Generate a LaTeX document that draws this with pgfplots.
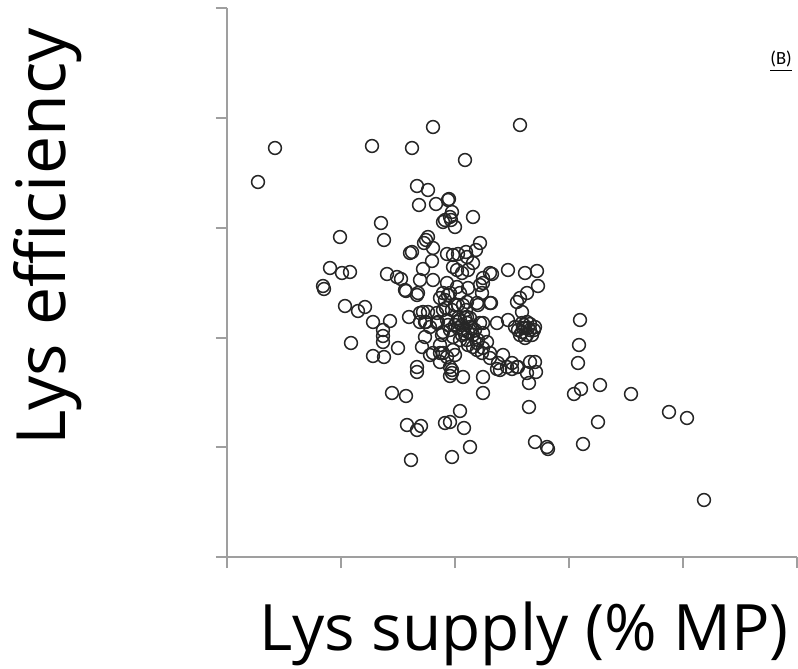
\documentclass[border=0pt]{standalone}
\usepackage{fontspec}
\setmainfont{Open Sans}
\newfontfamily\calibri{Carlito}
\usepackage{pgfplots}
\pgfplotsset{compat=1.18}
\begin{document}
\begin{tikzpicture}
\path[use as bounding box] (-113.5pt,-56pt) rectangle (285.5pt,278.5pt);
\begin{axis}[
  at={(0,0)}, anchor=south west,
  scale only axis, width=285pt, height=274.5pt,
  xmin=227, xmax=797, ymin=112, ymax=661,
  axis lines=left,
  axis line style={-, color=gray!75, line width=0.6pt},
  xtick={227,341,455,569,683,797},
  ytick={112,222,331,441,551,661},
  xticklabels={}, yticklabels={},
  tick align=outside, major tick length=5.5pt,
  tick style={color=gray!75, line width=0.6pt},
  clip=false,
]
\addplot[only marks, mark=o, mark size=3.2pt, mark options={line width=0.75pt, draw=black!85}] table {
x y
258 487
275 521
372 523
412 521
433 542
465 509
520 544
417 483
428 479
449 470
419 464
436 465
452 457
450 452
451 449
443 447
455 442
473 452
381 446
384 429
340 432
428 432
426 429
424 426
433 421
412 417
432 408
447 415
453 414
458 415
466 417
476 419
480 426
423 400
420 389
433 389
406 378
417 374
387 395
397 392
401 390
330 401
342 396
350 397
323 383
324 380
345 363
358 358
365 362
373 347
390 348
383 339
383 333
383 327
351 326
373 313
384 312
398 321
409 352
417 297
392 276
406 273
407 244
417 239
421 243
445 246
411 209
452 212
460 258
464 241
470 222
450 247
453 402
462 396
468 399
457 399
467 412
473 406
483 391
490 396
480 384
483 386
508 399
525 396
537 398
538 383
527 376
520 371
517 367
490 366
522 357
447 386
450 376
460 376
468 381
440 371
443 359
455 364
467 367
478 364
428 357
420 356
425 347
437 346
447 349
458 351
467 346
463 339
472 341
480 346
483 336
497 346
508 349
515 342
523 341
530 339
520 334
532 334
525 331
534 339
443 337
453 332
467 329
477 326
483 321
490 316
503 314
440 324
433 316
422 322
417 302
447 312
455 314
498 306
507 302
517 302
530 307
535 307
536 297
527 296
518 302
512 306
500 299
512 300
497 300
483 292
483 276
463 292
452 296
450 293
452 299
529 286
529 262
535 227
547 222
548 220
580 349
579 324
578 306
600 284
581 280
574 275
631 275
669 257
687 251
598 247
583 225
704 169
446 361
438 347
448 344
460 329
468 324
477 319
473 334
478 329
487 327
477 366
482 376
443 376
457 382
463 364
467 352
470 342
457 347
430 342
425 332
430 314
440 307
453 319
450 302
442 334
423 357
426 347
420 347
465 335
490 311
482 316
473 322
448 469
445 449
492 395
491 366
483 346
525 341
518 339
522 346
535 342
527 334
440 316
460 349
462 344
465 351
458 341
468 337
455 344
462 334
470 351
452 359
458 364
445 369
448 374
524 344
528 341
530 345
522 337
527 347
405 379
418 376
437 356
443 316
410 416
466 359
475 339
450 339
};
\node[rotate=90, anchor=base, font=\fontsize{34}{40}\selectfont] at (rel axis cs:-0.2842,0.583) {Lys efficiency};
\node[anchor=base, font=\fontsize{32}{40}\selectfont] at (rel axis cs:0.521,-0.1694) {Lys supply (\% MP)};
\node[anchor=base west, font=\calibri\fontsize{9.3}{11}\selectfont, inner sep=0pt] at (rel axis cs:0.9526,0.8962) {\underline{(B)}};
\end{axis}
\end{tikzpicture}
\end{document}
